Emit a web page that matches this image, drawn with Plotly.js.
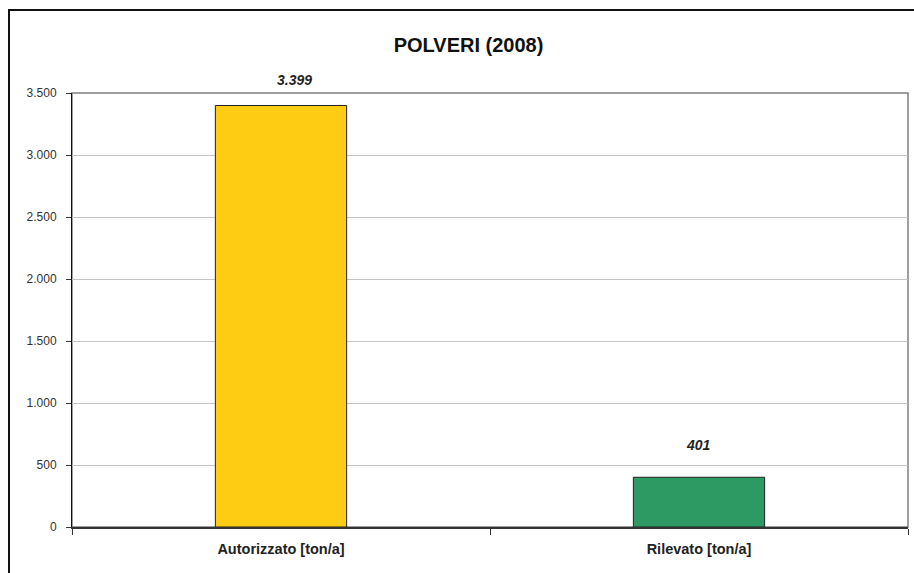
<!DOCTYPE html>
<html>
<head>
<meta charset="utf-8">
<script src="https://cdn.plot.ly/plotly-3.0.1.min.js"></script>
<style>
  html, body { margin: 0; padding: 0; background: #fff; }
  #wrap { position: relative; width: 914px; height: 573px; overflow: hidden; }
  #chart { position: absolute; left: 0; top: 0; width: 914px; height: 573px; }
  #frame { position: absolute; left: 8px; top: 9px; width: 920px; height: 580px;
           border-left: 2px solid #111; border-top: 2px solid #111; pointer-events: none; }
</style>
</head>
<body>
<div id="wrap">
  <div id="chart"></div>
  <div id="frame"></div>
</div>
<script>
const categories = ["Autorizzato [ton/a]", "Rilevato [ton/a]"];
const values = [3399, 401];
const barColors = ["#ffcc14", "#2e9a63"];
const yTicks = [0, 500, 1000, 1500, 2000, 2500, 3000, 3500];
const chartTitle = "POLVERI (2008)";

function fmtIt(v) {
  return String(Math.round(v)).replace(/\B(?=(\d{3})+(?!\d))/g, ".");
}

const trace = {
  type: "bar",
  x: categories,
  y: values,
  width: 0.314,
  marker: { color: barColors, line: { color: "#222", width: 1 } },
  hoverinfo: "skip"
};

const labelShift = [{ x: 13, y: 16 }, { x: -1, y: 22 }];
const annotations = categories.map((c, i) => ({
  x: c, y: values[i], xref: "x", yref: "y",
  text: "<b><i>" + fmtIt(values[i]) + "</i></b>",
  showarrow: false, yanchor: "bottom",
  xshift: labelShift[i].x, yshift: labelShift[i].y,
  font: { family: "Liberation Sans, Arial, sans-serif", size: 14, color: "#222" }
}));

const layout = {
  width: 914, height: 573,
  margin: { l: 72, r: 6, t: 93, b: 46, pad: 0 },
  paper_bgcolor: "#fff", plot_bgcolor: "#fff",
  separators: ",.",
  showlegend: false,
  font: { family: "Liberation Sans, Arial, sans-serif", size: 12, color: "#222" },
  title: {
    text: "<b>" + chartTitle + "</b>",
    x: 468.5 / 914, xref: "container", xanchor: "center",
    y: 1 - 45 / 573, yref: "container", yanchor: "middle",
    font: { family: "Liberation Sans, Arial, sans-serif", size: 20, color: "#111" }
  },
  xaxis: {
    type: "category",
    range: [-0.5, 1.5],
    showline: true, linecolor: "#333", linewidth: 1.5,
    ticks: "outside", tickson: "boundaries", ticklen: 6, tickcolor: "#333", tickwidth: 1,
    showgrid: false, zeroline: false,
    tickfont: { family: "Liberation Sans, Arial, sans-serif", size: 14.5, color: "#222", weight: "bold" },
    ticklabelstandoff: 8
  },
  yaxis: {
    range: [0, 3500],
    tickvals: yTicks,
    tickformat: ",d",
    showline: true, linecolor: "#111", linewidth: 1,
    ticks: "outside", ticklen: 5, tickcolor: "#333",
    showgrid: true, gridcolor: "#c4c4c4", gridwidth: 1,
    zeroline: false,
    tickfont: { family: "Liberation Sans, Arial, sans-serif", size: 12, color: "#333" },
    ticklabelstandoff: 7
  },
  shapes: [
    { type: "rect", xref: "paper", yref: "paper", x0: 0, x1: 1, y0: 0, y1: 1,
      line: { color: "#808080", width: 1.5 }, layer: "below" }
  ],
  annotations: annotations
};

Plotly.newPlot("chart", [trace], layout, { displayModeBar: false, staticPlot: true });
</script>
</body>
</html>
